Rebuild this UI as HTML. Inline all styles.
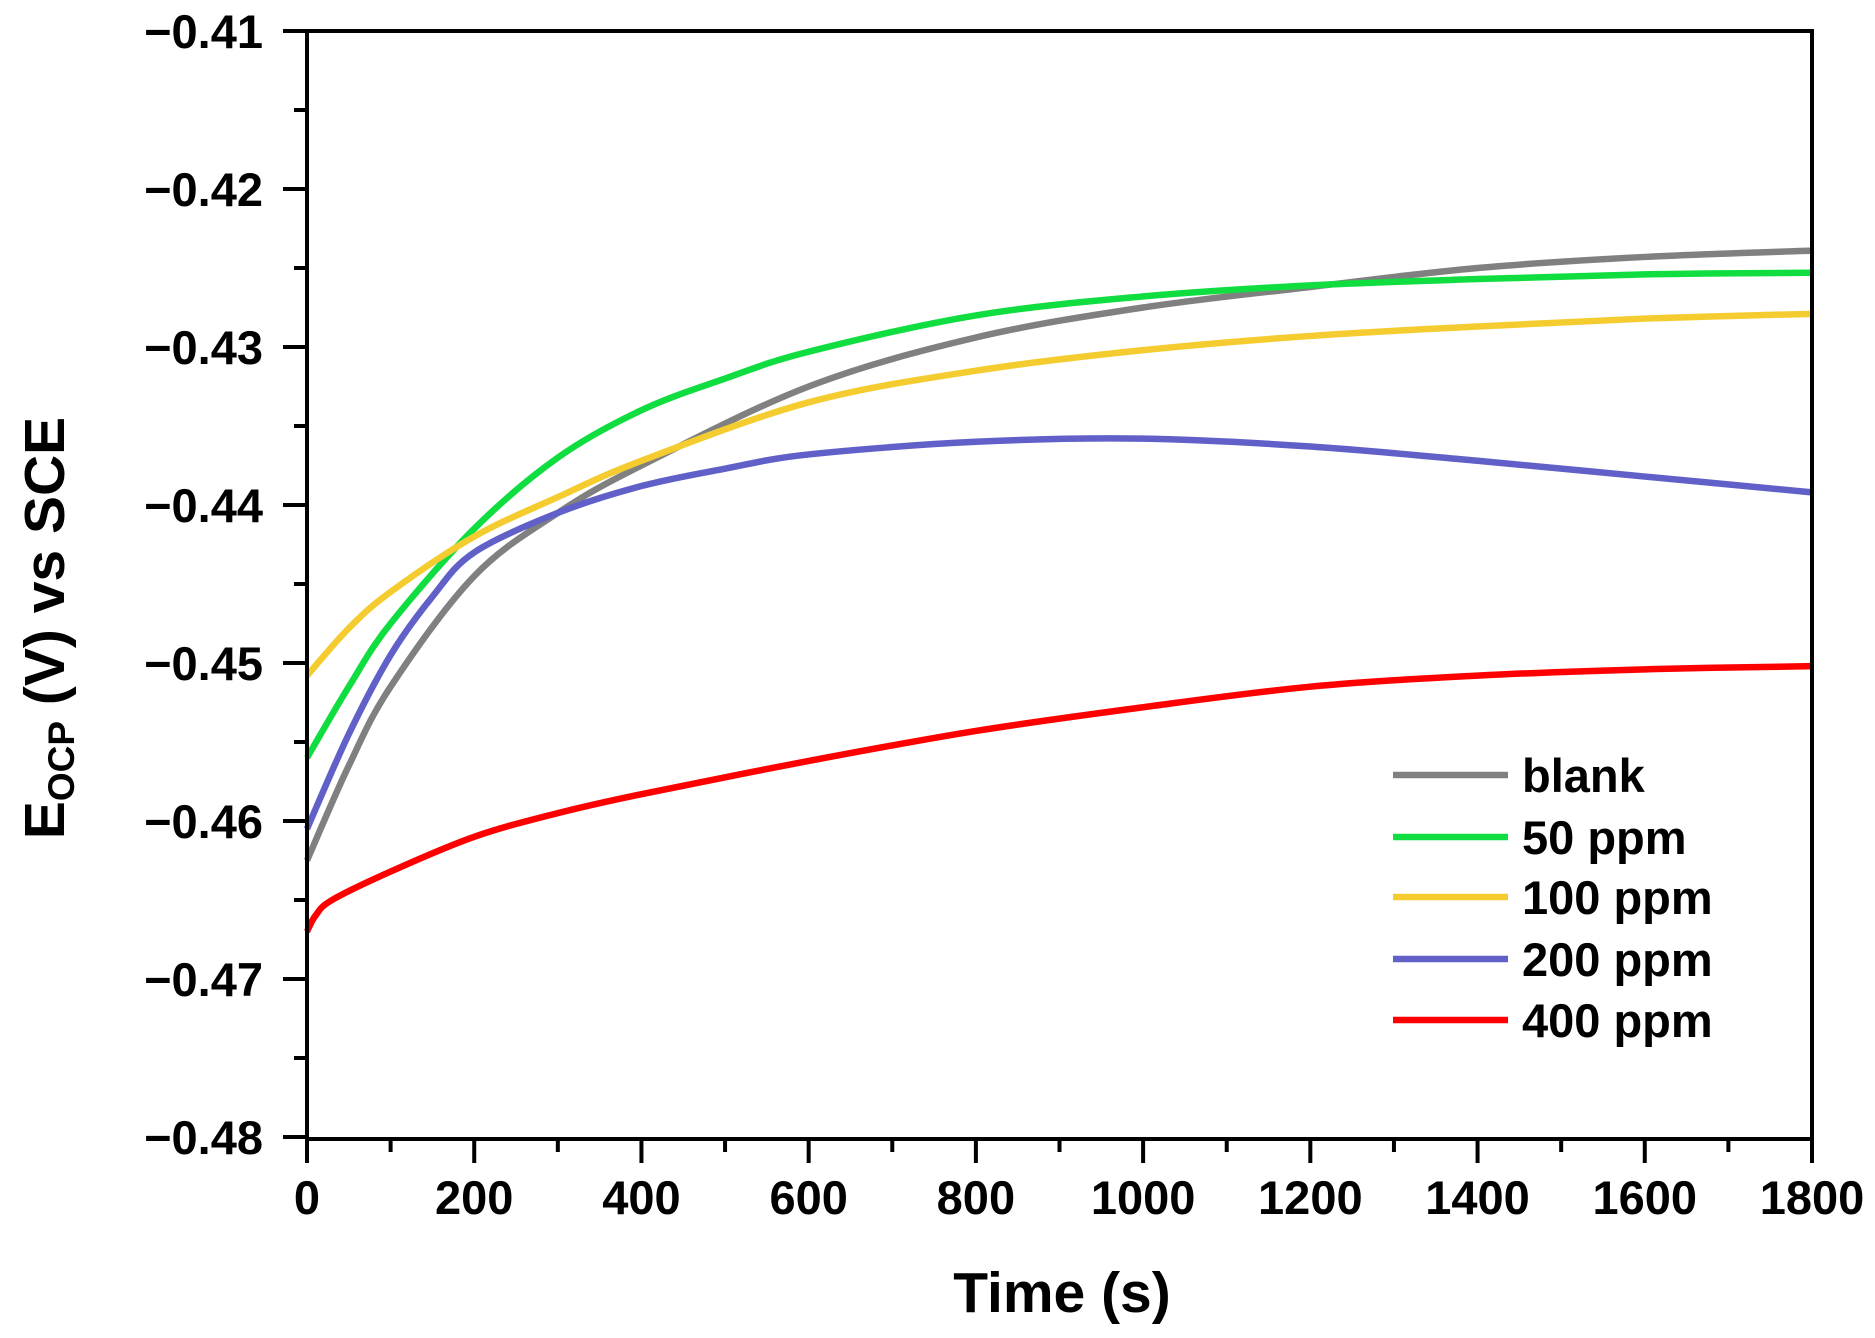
<!DOCTYPE html>
<html><head><meta charset="utf-8"><style>
html,body{margin:0;padding:0;background:#fff;}
svg{display:block;}
text{font-family:"Liberation Sans",Arial,sans-serif;font-weight:bold;fill:#000;}
</style></head><body>
<svg id="s" width="1875" height="1338" xmlns="http://www.w3.org/2000/svg">
<g id="curves" fill="none" stroke-width="6.5" stroke-linejoin="round" stroke-linecap="butt"></g>
<g id="axes" stroke="#000" stroke-width="4"></g>
<g id="labels"></g>
<text x="1062" y="1312" font-size="57" text-anchor="middle">Time (s)</text>
<text transform="translate(64,628) rotate(-90)" font-size="57" text-anchor="middle">E<tspan font-size="37" dy="10">OCP</tspan><tspan dy="-10"> (V) vs SCE</tspan></text>
<g id="legend"></g>
</svg>
<script>
var NS="http://www.w3.org/2000/svg";
var X0=307,X1=1812,Y0=31,PY=158;
function X(t){return X0+t*(X1-X0)/1800;}
function Y(v){return Y0+(-0.41-v)/0.01*PY;}
function el(p,tag,a,txt){var e=document.createElementNS(NS,tag);for(var k in a)e.setAttribute(k,a[k]);if(txt!=null)e.textContent=txt;p.appendChild(e);return e;}
var series=[
["#808080",[[0,-0.4625],[50,-0.4565],[100,-0.4515],[200,-0.4445],[300,-0.4405],[400,-0.4375],[600,-0.4325],[800,-0.4294],[1000,-0.4275],[1200,-0.4262],[1400,-0.4250],[1600,-0.4243],[1800,-0.4239]]],
["#10dd40",[[0,-0.4560],[50,-0.4515],[100,-0.4475],[200,-0.4415],[300,-0.4370],[400,-0.4340],[500,-0.4320],[600,-0.4303],[800,-0.4280],[1000,-0.4268],[1200,-0.4261],[1400,-0.4257],[1600,-0.4254],[1800,-0.4253]]],
["#f5cc30",[[0,-0.4508],[50,-0.4478],[100,-0.4455],[200,-0.4420],[300,-0.4395],[400,-0.4372],[600,-0.4335],[800,-0.4315],[1000,-0.4302],[1200,-0.4293],[1400,-0.4287],[1600,-0.4282],[1800,-0.4279]]],
["#6060c8",[[0,-0.4605],[50,-0.4545],[100,-0.4495],[150,-0.4458],[200,-0.4430],[300,-0.4405],[400,-0.4388],[500,-0.4377],[600,-0.4368],[800,-0.4360],[1000,-0.4358],[1200,-0.4363],[1400,-0.4372],[1600,-0.4382],[1800,-0.4392]]],
["#ff0000",[[0,-0.4670],[10,-0.4660],[30,-0.4650],[100,-0.4632],[200,-0.4610],[300,-0.4595],[400,-0.4583],[600,-0.4562],[800,-0.4543],[1000,-0.4528],[1200,-0.4515],[1400,-0.4508],[1600,-0.4504],[1800,-0.4502]]]
];
var cg=document.getElementById("curves");
series.forEach(function(s){
 var p=s[1].map(function(q){return [X(q[0]),Y(q[1])];});
 var d="M"+p[0][0]+","+p[0][1];
 for(var i=0;i<p.length-1;i++){
  var a=p[Math.max(0,i-1)],b=p[i],c=p[i+1],e=p[Math.min(p.length-1,i+2)];
  var c1=[b[0]+(c[0]-a[0])/6,b[1]+(c[1]-a[1])/6],c2=[c[0]-(e[0]-b[0])/6,c[1]-(e[1]-b[1])/6];
  d+=" C"+c1+" "+c2+" "+c;
 }
 el(cg,"path",{d:d,stroke:s[0]});
});
var ax=document.getElementById("axes"),lb=document.getElementById("labels");
el(ax,"rect",{x:X0,y:Y0,width:X1-X0,height:1139-Y0,fill:"none"});
for(var i=0;i<=7;i++){
 var y=Y0+i*PY;
 el(ax,"line",{x1:X0-24,y1:y,x2:X0,y2:y});
 if(i<7)el(ax,"line",{x1:X0-13,y1:y+PY/2,x2:X0,y2:y+PY/2});
 el(lb,"text",{x:263,y:y+17,"font-size":"47","text-anchor":"end"},"\u22120.4"+(i+1));
}
for(var t=0;t<=1800;t+=200){
 var x=X(t);
 el(ax,"line",{x1:x,y1:1139,x2:x,y2:1163});
 if(t<1800)el(ax,"line",{x1:X(t+100),y1:1139,x2:X(t+100),y2:1152});
 el(lb,"text",{x:x,y:1214,"font-size":"47","text-anchor":"middle"},String(t));
}
var lg=document.getElementById("legend");
var names=["blank","50 ppm","100 ppm","200 ppm","400 ppm"],ly=[775,837,897,959,1020];
for(var i=0;i<5;i++){
 el(lg,"line",{x1:1393,y1:ly[i],x2:1508,y2:ly[i],stroke:series[i][0],"stroke-width":"6.5"});
 el(lg,"text",{x:1522,y:ly[i]+17,"font-size":"47"},names[i]);
}
</script>
</body></html>
